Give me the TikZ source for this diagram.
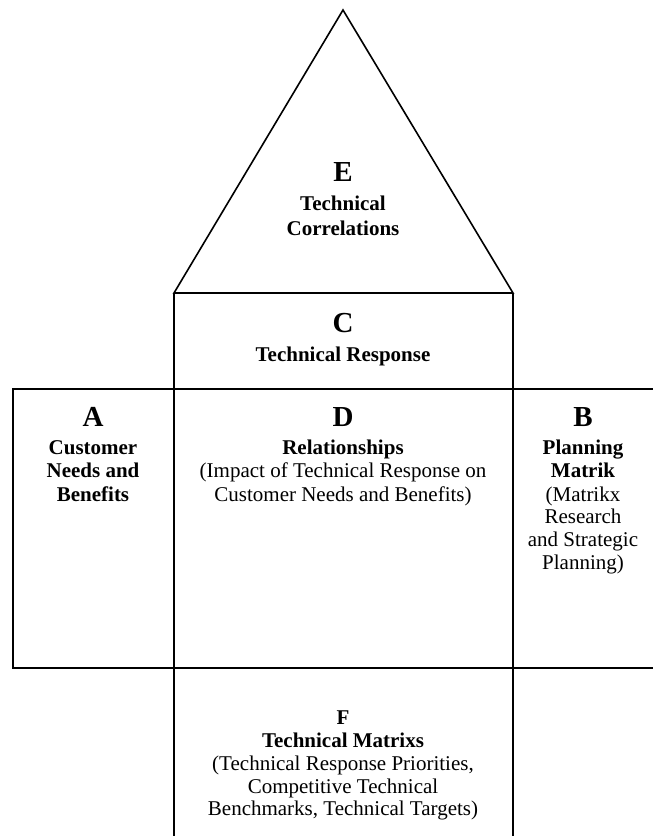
\documentclass[tikz,border=0pt]{standalone}
\usepackage{fontspec}
\setmainfont{Liberation Serif}
\begin{document}
\begin{tikzpicture}[x=1pt,y=-1pt,
  frame/.style={draw=black,line width=1.6pt},
  ln/.style={anchor=base,inner sep=0pt,font=\fontsize{21}{24}\selectfont},
  lb/.style={ln,font=\fontsize{21}{24}\selectfont\bfseries},
  big/.style={anchor=base,inner sep=0pt,font=\fontsize{29}{31}\selectfont\bfseries}]
\useasboundingbox (0,0) rectangle (653,836);
% coordinates
\coordinate (apex) at (343,10);
\coordinate (tl) at (174,293);
\coordinate (tr) at (513,293);
\coordinate (bl) at (174,836);
\coordinate (br) at (513,836);
\coordinate (al) at (13,389);
\coordinate (ar) at (653,389);
\coordinate (abl) at (13,668);
\coordinate (abr) at (653,668);
% shapes
\draw[frame,line join=miter] (tl) -- (apex) -- (tr) -- cycle;
\draw[frame] (tl) -- (bl);
\draw[frame] (tr) -- (br);
\draw[frame] (ar) -- (al) -- (abl) -- (abr);
% E
\node[big] (E) at (343,181) {E};
\node[lb] (E1) at (343,210) {Technical};
\node[lb] (E2) at (343,235) {Correlations};
% C
\node[big] (C) at (343,332) {C};
\node[lb] (C1) at (343,361) {Technical Response};
% A
\node[big] (A) at (93,426) {A};
\node[lb] (A1) at (93,454) {Customer};
\node[lb] (A2) at (93,477) {Needs and};
\node[lb] (A3) at (93,501) {Benefits};
% D
\node[big] (D) at (343,426) {D};
\node[lb] (D1) at (343,454) {Relationships};
\node[ln] (D2) at (343,477) {(Impact of Technical Response on};
\node[ln] (D3) at (343,501) {Customer Needs and Benefits)};
% B
\node[big] (B) at (583,426) {B};
\node[lb] (B1) at (583,454) {Planning};
\node[lb] (B2) at (583,477) {Matrik};
\node[ln] (B3) at (583,501) {(Matrikx};
\node[ln] (B4) at (583,523) {Research};
\node[ln] (B5) at (583,546) {and Strategic};
\node[ln] (B6) at (583,569) {Planning)};
% F
\node[lb] (F) at (343,724) {F};
\node[lb] (F1) at (343,747) {Technical Matrixs};
\node[ln] (F2) at (343,770) {(Technical Response Priorities,};
\node[ln] (F3) at (343,793) {Competitive Technical};
\node[ln] (F4) at (343,815) {Benchmarks, Technical Targets)};
\end{tikzpicture}
\end{document}
